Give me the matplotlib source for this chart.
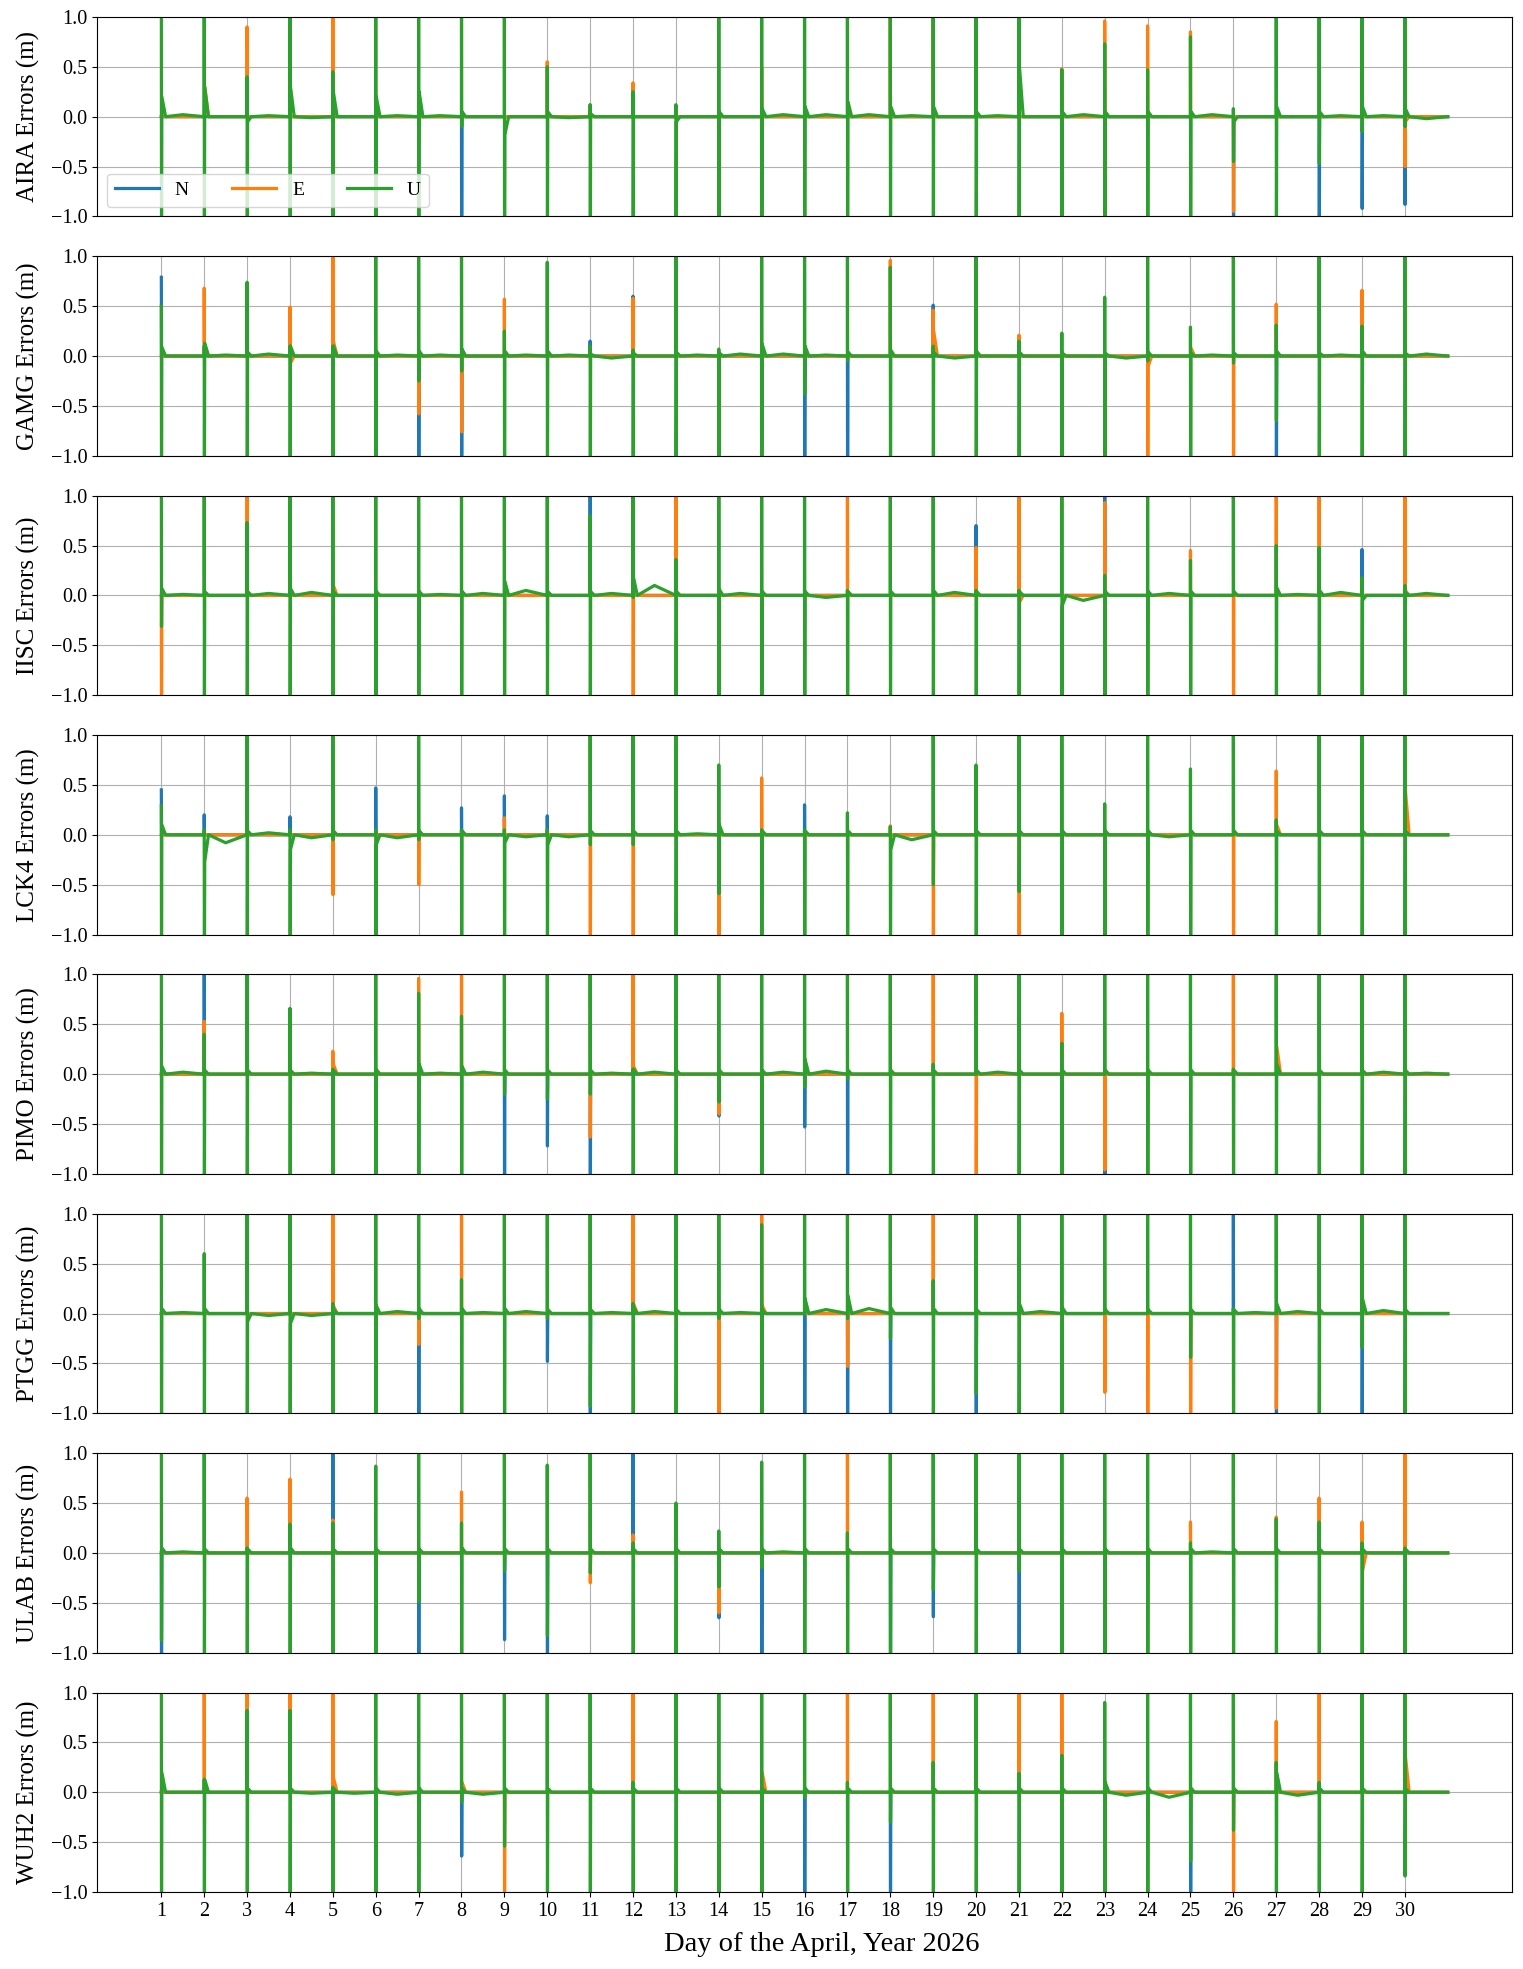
"""Daily-reset positioning errors (N/E/U) for eight stations, April 2026"""
import matplotlib.pyplot as plt

plt.rcParams['font.family'] = ['Liberation Serif', 'DejaVu Serif']

DAYS = list(range(1, 31))
STATIONS = ['AIRA', 'GAMG', 'IISC', 'LCK4', 'PIMO', 'PTGG', 'ULAB', 'WUH2']

# values; 1.5 / -1.5 = spike runs off the +-1 m axis
# *_HI / *_LO: extremes of the re-initialisation spike at the start of each day
# *_TAIL: value just after the spike, *_MID: level around mid-day
AIRA_U_HI = [1.5, 1.5, 0.4, 1.5, 0.45, 1.5, 1.5, 1.5, 1.5, 0.5, 0.12, 0.25, 0.12, 1.5, 1.5,
             1.5, 1.5, 1.5, 1.5, 1.5, 1.5, 0.47, 0.73, 0.47, 0.8, 0.08, 1.5, 1.5, 1.5, 1.5]
AIRA_U_LO = [-1.5, -1.5, -1.5, -1.5, -1.5, -1.5, -1.5, -0.1, -1.5, -1.5, -1.5, -1.5, -1.5, -1.5, -1.5,
             -1.5, -1.5, -1.5, -1.5, -1.5, -1.5, -1.5, -1.5, -1.5, -1.5, -0.45, -1.5, -0.47, -0.15, -0.1]
AIRA_U_TAIL = [0.2, 0.3, -0.05, 0.3, 0.25, 0.2, 0.25, 0.05, -0.18, 0.05, 0.03, 0.0, -0.05, 0.05, 0.08,
               0.1, 0.15, 0.1, 0.1, 0.05, 0.5, 0.05, 0.05, 0.05, 0.05, -0.05, 0.1, 0.05, 0.1, 0.08]
AIRA_U_MID = [0.02, 0.0, 0.01, -0.01, 0.0, 0.01, 0.01, 0.0, 0.0, -0.01, 0.0, 0.0, 0.0, 0.0, 0.02,
              0.02, 0.02, 0.01, 0.0, 0.01, 0.0, 0.02, 0.0, 0.0, 0.02, 0.0, 0.0, 0.01, 0.01, -0.02]
AIRA_N_HI = {}
AIRA_N_LO = {8: -1.5, 26: -1.5, 28: -1.5, 29: -0.92, 30: -0.88}
AIRA_E_HI = {3: 0.9, 5: 1.5, 10: 0.55, 11: 0.12, 12: 0.34, 15: 0.5, 18: 1.5, 19: 1.5,
             22: 0.48, 23: 0.96, 24: 0.91, 25: 0.85}
AIRA_E_LO = {26: -0.95, 30: -0.5}
AIRA_E_TAIL = {2: 0.3, 5: 0.05, 30: -0.05}

GAMG_U_HI = [0.5, 0.1, 0.74, 0.1, 0.1, 1.5, 1.5, 1.5, 0.25, 0.94, 0.1, 0.06, 1.5, 0.07, 1.5,
             1.5, 1.5, 0.89, 0.1, 1.5, 0.15, 0.23, 0.59, 1.5, 0.29, 1.5, 0.31, 1.5, 0.3, 1.5]
GAMG_U_LO = [-1.5, -1.5, -1.5, -1.5, -1.5, -1.5, -0.25, -0.15, -1.5, -1.5, -1.5, -1.5, -1.5, -1.5, -1.5,
             -0.38, -0.05, -1.5, -1.5, -1.5, -1.5, -1.5, -1.5, -0.05, -1.5, -0.07, -0.65, -1.5, -1.5, -1.5]
GAMG_U_TAIL = [0.09, 0.13, 0.04, 0.1, 0.1, 0.05, 0.05, 0.07, 0.05, 0.05, 0.02, 0.03, 0.04, 0.03, 0.12,
               0.1, 0.04, 0.06, 0.04, 0.05, 0.04, 0.03, 0.03, 0.04, 0.03, 0.03, 0.05, 0.03, 0.05, 0.03]
GAMG_U_MID = [0.0, 0.01, 0.02, 0.0, 0.0, 0.01, 0.01, 0.0, 0.01, 0.01, -0.02, 0.0, 0.01, 0.02, 0.02,
              0.01, 0.0, 0.0, -0.02, 0.0, 0.0, 0.0, -0.02, 0.0, 0.01, 0.0, 0.0, 0.01, 0.0, 0.02]
GAMG_N_HI = {1: 0.79, 11: 0.15, 12: 0.6, 19: 0.51}
GAMG_N_LO = {7: -1.5, 8: -1.5, 16: -1.5, 17: -1.5, 27: -1.5}
GAMG_E_HI = {2: 0.68, 4: 0.49, 5: 1.5, 9: 0.57, 12: 0.58, 18: 0.96, 19: 0.46, 21: 0.21,
             27: 0.52, 29: 0.66}
GAMG_E_LO = {7: -0.58, 8: -0.76, 24: -1.5, 26: -1.5}
GAMG_E_TAIL = {2: 0.12, 4: -0.07, 5: 0.15, 19: 0.25, 24: -0.1, 25: 0.08}

IISC_U_HI = [1.5, 1.5, 0.73, 1.5, 1.5, 1.5, 1.5, 1.5, 1.5, 1.5, 0.8, 1.5, 0.36, 1.5, 1.5,
             1.5, 0.05, 1.5, 1.5, 0.05, 0.05, 1.5, 0.2, 1.5, 0.35, 1.5, 0.5, 0.48, 0.18, 0.1]
IISC_U_LO = [-0.31, -1.5, -1.5, -1.5, -1.5, -1.5, -1.5, -1.5, -1.5, -1.5, -1.5, -0.02, -1.5, -1.5, -1.5,
             -1.5, -1.5, -1.5, -1.5, -1.5, -1.5, -1.5, -1.5, -1.5, -1.5, 0.0, -1.5, -1.5, -1.5, -1.5]
IISC_U_TAIL = [0.07, 0.04, 0.04, 0.07, 0.04, 0.04, 0.04, 0.04, 0.14, 0.04, 0.04, 0.18, 0.04, 0.06, 0.04,
               0.04, 0.04, 0.04, 0.05, 0.04, 0.04, -0.1, 0.04, 0.04, 0.04, 0.04, 0.08, 0.05, -0.05, 0.03]
IISC_U_MID = [0.01, 0.0, 0.02, 0.03, 0.0, 0.0, 0.01, 0.02, 0.05, 0.0, 0.02, 0.1, 0.0, 0.02, 0.0,
              -0.02, 0.0, 0.0, 0.03, 0.0, 0.0, -0.05, 0.0, 0.02, 0.0, 0.0, 0.01, 0.03, 0.0, 0.02]
IISC_N_HI = {11: 1.5, 20: 0.7, 23: 1.5, 29: 0.46}
IISC_N_LO = {}
IISC_E_HI = {3: 1.5, 13: 1.5, 17: 1.5, 20: 0.48, 21: 1.5, 23: 0.93, 25: 0.45, 27: 1.5,
             28: 1.5, 30: 1.5}
IISC_E_LO = {1: -1.5, 12: -1.5, 26: -1.5}
IISC_E_TAIL = {5: 0.1, 21: -0.07, 30: 0.05}

LCK4_U_HI = [0.29, 0.05, 1.5, 0.05, 1.5, 0.05, 1.5, 0.05, 0.05, 0.05, 1.5, 1.5, 1.5, 0.7, 0.05,
             0.05, 0.22, 0.08, 1.5, 0.7, 1.5, 1.5, 0.31, 1.5, 0.66, 1.5, 0.15, 1.5, 1.5, 1.5]
LCK4_U_LO = [-1.5, -1.5, -1.5, -1.5, -0.05, -1.5, -0.05, -1.5, -1.5, -1.5, -0.1, -0.1, -1.5, -0.59, -1.5,
             -1.5, -1.5, -1.5, -0.5, -1.5, -0.57, -1.5, -1.5, -1.5, -1.5, 0.0, -1.5, -1.5, -1.5, -1.5]
LCK4_U_TAIL = [0.1, -0.27, 0.04, -0.15, 0.04, -0.1, 0.04, 0.04, -0.08, -0.1, 0.04, 0.04, 0.04, 0.1, 0.04,
               0.04, 0.04, -0.15, 0.04, 0.04, 0.04, 0.04, 0.04, 0.04, 0.04, 0.04, 0.04, 0.04, 0.04, 0.04]
LCK4_U_MID = [0.0, -0.08, 0.02, -0.03, 0.0, -0.03, 0.0, 0.0, -0.02, -0.02, 0.0, 0.0, 0.01, 0.0, 0.0,
              0.0, 0.0, -0.05, 0.0, 0.0, 0.0, 0.0, 0.0, -0.02, 0.0, 0.0, 0.0, 0.0, 0.0, 0.0]
LCK4_N_HI = {1: 0.45, 2: 0.2, 4: 0.18, 6: 0.47, 8: 0.27, 9: 0.39, 10: 0.19, 16: 0.3}
LCK4_N_LO = {}
LCK4_E_HI = {9: 0.17, 15: 0.57, 18: 0.09, 27: 0.64}
LCK4_E_LO = {5: -0.6, 7: -0.5, 11: -1.5, 12: -1.5, 14: -1.5, 19: -1.5, 21: -1.5, 26: -1.5}
LCK4_E_TAIL = {27: 0.1, 30: 0.45}

PIMO_U_HI = [1.5, 0.4, 1.5, 0.66, 0.05, 1.5, 0.81, 0.58, 1.5, 1.5, 1.5, 0.05, 1.5, 1.5, 1.5,
             1.5, 1.5, 1.5, 0.1, 1.5, 1.5, 0.31, 1.5, 1.5, 1.5, 0.05, 1.5, 1.5, 1.5, 1.5]
PIMO_U_LO = [-1.5, -1.5, -1.5, -1.5, -1.5, -1.5, -1.5, -1.5, -0.2, -0.25, -0.2, -1.5, -1.5, -0.28, -1.5,
             -0.13, -0.05, -1.5, -1.5, 0.0, -1.5, -1.5, 0.0, -1.5, -1.5, -1.5, -1.5, -1.5, -1.5, -1.5]
PIMO_U_TAIL = [0.08, 0.04, 0.04, 0.04, 0.04, 0.04, 0.1, 0.08, 0.04, 0.04, 0.04, 0.05, 0.04, 0.04, 0.04,
               0.15, 0.04, 0.04, 0.04, 0.04, 0.04, 0.04, 0.04, 0.04, 0.04, 0.04, 0.1, 0.04, 0.04, 0.04]
PIMO_U_MID = [0.02, 0.0, 0.0, 0.01, 0.0, 0.0, 0.01, 0.02, 0.0, 0.0, 0.01, 0.02, 0.0, 0.0, 0.02,
              0.03, 0.0, 0.0, 0.0, 0.02, 0.0, 0.0, 0.0, 0.0, 0.0, 0.0, 0.0, 0.0, 0.02, 0.01]
PIMO_N_HI = {2: 1.5}
PIMO_N_LO = {9: -1.5, 10: -0.72, 11: -1.5, 14: -0.42, 16: -0.53, 17: -1.5, 23: -1.5}
PIMO_E_HI = {2: 0.53, 5: 0.23, 7: 0.96, 8: 1.5, 12: 1.5, 19: 1.5, 22: 0.61, 26: 1.5}
PIMO_E_LO = {11: -0.63, 14: -0.4, 20: -1.5, 23: -0.96}
PIMO_E_TAIL = {5: 0.1, 6: 0.05, 12: 0.08, 27: 0.28}

PTGG_U_HI = [1.5, 0.6, 1.5, 1.5, 0.1, 1.5, 1.5, 0.34, 1.5, 1.5, 1.5, 0.1, 1.5, 1.5, 0.89,
             1.5, 1.5, 1.5, 0.33, 1.5, 1.5, 1.5, 1.5, 1.5, 1.5, 0.05, 1.5, 1.5, 1.5, 1.5]
PTGG_U_LO = [-1.5, -1.5, -1.5, -1.5, -1.5, -1.5, -0.05, -1.5, -1.5, -0.05, -0.93, -1.5, -1.5, -0.05, -1.5,
             0.0, -0.05, -0.25, -1.5, -0.8, -1.5, -1.5, 0.0, 0.0, -0.44, -1.5, 0.0, -1.5, -0.34, -1.5]
PTGG_U_TAIL = [0.05, 0.05, -0.08, -0.1, 0.05, 0.08, 0.05, 0.05, 0.05, 0.04, 0.04, 0.07, 0.04, 0.04, 0.04,
               0.15, 0.18, 0.06, 0.05, 0.04, 0.1, 0.06, 0.04, 0.04, 0.04, 0.04, 0.1, 0.04, 0.15, 0.04]
PTGG_U_MID = [0.01, 0.0, -0.02, -0.02, 0.0, 0.02, 0.0, 0.01, 0.02, 0.0, 0.01, 0.02, 0.0, 0.01, 0.0,
              0.04, 0.05, 0.0, 0.0, 0.0, 0.02, 0.0, 0.0, 0.0, 0.0, 0.01, 0.02, 0.0, 0.03, 0.0]
PTGG_N_HI = {26: 1.5}
PTGG_N_LO = {7: -1.5, 10: -0.48, 11: -1.5, 16: -1.5, 17: -1.5, 18: -1.5, 20: -1.5, 27: -1.5, 29: -1.5}
PTGG_E_HI = {5: 1.5, 8: 1.5, 12: 1.5, 15: 1.5, 19: 1.5}
PTGG_E_LO = {7: -0.31, 14: -1.5, 17: -0.53, 23: -0.79, 24: -1.5, 25: -1.5, 27: -0.95}
PTGG_E_TAIL = {5: 0.08, 12: 0.1, 15: 0.08}

ULAB_U_HI = [1.5, 1.5, 0.05, 0.29, 0.3, 0.87, 1.5, 0.3, 1.5, 0.88, 1.5, 0.1, 0.5, 0.22, 0.91,
             1.5, 0.2, 1.5, 1.5, 1.5, 1.5, 1.5, 1.5, 1.5, 0.1, 1.5, 0.34, 0.31, 0.1, 0.05]
ULAB_U_LO = [-0.88, -1.5, -1.5, -1.5, -1.5, -1.5, -0.49, -1.5, -0.18, -0.83, -0.2, -1.5, -1.5, -0.34, -0.15,
             -1.5, -1.5, -1.5, -0.37, -1.5, -0.18, -1.5, -1.5, -1.5, -1.5, -1.5, -1.5, -1.5, -1.5, -1.5]
ULAB_U_TAIL = [0.05, 0.04, 0.04, 0.05, 0.04, 0.04, 0.04, 0.05, 0.04, 0.04, 0.04, 0.04, 0.04, 0.04, 0.04,
               0.04, 0.04, 0.04, 0.04, 0.04, 0.04, 0.04, 0.04, 0.04, 0.04, 0.04, 0.04, 0.04, 0.04, 0.04]
ULAB_U_MID = [0.01, 0.0, 0.0, 0.0, 0.0, 0.0, 0.0, 0.0, 0.0, 0.0, 0.0, 0.0, 0.0, 0.0, 0.01,
              0.0, 0.0, 0.0, 0.0, 0.0, 0.0, 0.0, 0.0, 0.0, 0.01, 0.0, 0.0, 0.0, 0.0, 0.0]
ULAB_N_HI = {5: 1.5, 12: 1.5}
ULAB_N_LO = {1: -1.5, 7: -1.5, 9: -0.87, 10: -1.5, 14: -0.65, 15: -1.5, 18: -1.5, 19: -0.64, 21: -1.5}
ULAB_E_HI = {3: 0.55, 4: 0.74, 5: 0.33, 8: 0.61, 12: 0.18, 17: 1.5, 25: 0.31, 27: 0.36,
             28: 0.55, 29: 0.31, 30: 1.5}
ULAB_E_LO = {11: -0.3, 14: -0.6}
ULAB_E_TAIL = {4: 0.05, 29: -0.18}

WUH2_U_HI = [1.5, 0.13, 0.82, 0.82, 0.05, 1.5, 1.5, 1.5, 1.5, 1.5, 1.5, 0.1, 1.5, 1.5, 1.5,
             1.5, 0.1, 1.5, 0.3, 1.5, 0.19, 0.37, 0.9, 1.5, 1.5, 1.5, 0.3, 0.1, 1.5, 1.5]
WUH2_U_LO = [-1.5, -1.5, -1.5, -1.5, -1.5, -1.5, -1.5, -0.1, -0.54, -1.5, -1.5, -1.5, -1.5, -1.5, -1.5,
             -0.05, -1.5, -0.3, -1.5, -1.5, -1.5, -1.5, -1.5, -1.5, -0.69, -0.38, -1.5, -1.5, -1.5, -0.84]
WUH2_U_TAIL = [0.2, 0.13, 0.04, 0.04, 0.04, 0.04, 0.04, 0.04, 0.04, 0.04, 0.04, 0.04, 0.04, 0.04, 0.04,
               0.04, 0.04, 0.04, 0.04, 0.04, 0.04, 0.04, 0.1, 0.04, 0.04, 0.04, 0.2, 0.04, 0.04, 0.04]
WUH2_U_MID = [0.0, 0.0, 0.0, -0.01, -0.01, -0.02, 0.0, -0.02, 0.0, 0.0, 0.0, 0.0, 0.0, 0.0, 0.0,
              0.0, 0.0, 0.0, 0.0, 0.0, 0.0, 0.0, -0.03, -0.05, 0.0, 0.0, -0.03, 0.0, 0.0, 0.0]
WUH2_N_HI = {}
WUH2_N_LO = {8: -0.64, 16: -1.5, 18: -1.5, 25: -1.5}
WUH2_E_HI = {2: 1.5, 3: 1.5, 4: 1.5, 5: 1.5, 12: 1.5, 17: 1.5, 19: 1.5, 21: 1.5, 22: 1.5,
             27: 0.71, 28: 1.5}
WUH2_E_LO = {9: -1.5, 26: -1.5}
WUH2_E_TAIL = {2: 0.05, 5: 0.15, 8: 0.1, 15: 0.2, 30: 0.37}


def per_day(values):
    """sparse {day: value} -> list over all days"""
    if isinstance(values, dict):
        return [values.get(d, 0.0) for d in DAYS]
    return list(values)


def day_series(hi, lo, tail, mid):
    """one reset per day: spike up/down, short tail, then the daily level"""
    hi, lo, tail, mid = per_day(hi), per_day(lo), per_day(tail), per_day(mid)
    x, y = [], []
    for i, d in enumerate(DAYS):
        x += [d, d + 0.004, d + 0.012, d + 0.1, d + 0.5, d + 0.999]
        y += [hi[i], lo[i], tail[i], 0.0, mid[i], 0.0]
    return x, y


fig, axes = plt.subplots(8, 1, figsize=(15.23, 19.69), dpi=100, sharex=True)
plt.subplots_adjust(left=0.0637, right=0.9928, top=0.9914, bottom=0.0391, hspace=0.2)

for k, (ax, name) in enumerate(zip(axes, STATIONS)):
    g = globals()
    xn, yn = day_series(g[name + '_N_HI'], g[name + '_N_LO'], {}, {})
    xe, ye = day_series(g[name + '_E_HI'], g[name + '_E_LO'], g[name + '_E_TAIL'], {})
    xu, yu = day_series(g[name + '_U_HI'], g[name + '_U_LO'], g[name + '_U_TAIL'],
                        g[name + '_U_MID'])
    ax.plot(xn, yn, color='tab:blue', lw=2.3, label='N')
    ax.plot(xe, ye, color='tab:orange', lw=2.3, label='E')
    ax.plot(xu, yu, color='tab:green', lw=2.3, label='U')
    ax.set_ylim(-1, 1)
    ax.set_yticks([-1, -0.5, 0, 0.5, 1])
    ax.grid(True)
    ax.set_ylabel(name + ' Errors (m)', fontsize=18, labelpad=7.5)
    ax.tick_params(labelsize=14.5)
    if k < len(STATIONS) - 1:
        ax.tick_params(axis='x', bottom=False)

axes[-1].set_xticks(DAYS)
axes[-1].set_xlabel('Day of the April, Year 2026', fontsize=20.5, labelpad=8)
axes[-1].xaxis.label.set_x(0.512)
axes[0].legend(loc='lower left', ncol=3, fontsize=14, handlelength=2.3, columnspacing=2.2)

plt.savefig('out.png')
